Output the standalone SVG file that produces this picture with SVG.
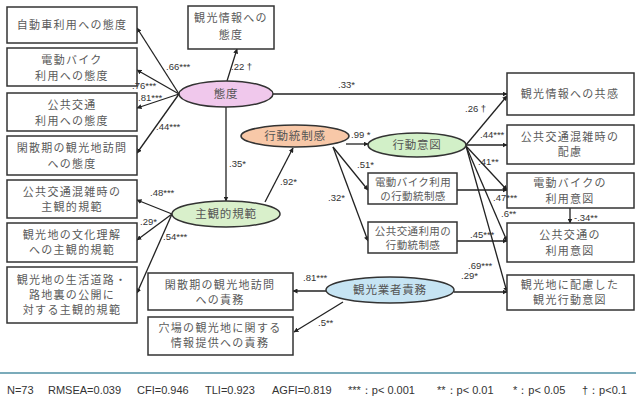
<svg xmlns="http://www.w3.org/2000/svg" width="636" height="405" viewBox="0 0 636 405">
<defs>
<marker id="ah" viewBox="0 0 10 10" refX="9" refY="5" markerWidth="5" markerHeight="5" orient="auto" markerUnits="userSpaceOnUse">
<path d="M0,0 L10,5 L0,10 z" fill="#222"/>
</marker>
<style>
.box{fill:#fff;stroke:#333;stroke-width:1.5}
.bt{font-family:"Noto Sans CJK JP","Noto Sans",sans-serif;font-size:11px;fill:#5a5a5a;text-anchor:middle;letter-spacing:1.3px}
.bs{font-family:"Noto Sans CJK JP","Noto Sans",sans-serif;font-size:10.5px;fill:#5a5a5a;text-anchor:middle;letter-spacing:0.4px}
.et{font-family:"Noto Sans CJK JP","Noto Sans",sans-serif;font-size:11.5px;fill:#555;text-anchor:middle;letter-spacing:0.8px}
.ell{stroke:#333;stroke-width:1.5}
.ln{stroke:#222;stroke-width:1.3;fill:none;marker-end:url(#ah)}
.lb{font-family:"Liberation Sans",Arial,sans-serif;font-size:9.5px;fill:#333}
.ft{font-family:"Liberation Sans",Arial,sans-serif;font-size:11px;fill:#333}
</style>
</defs>
<rect width="636" height="405" fill="#fff"/>

<g id="connectors">
<line class="ln" x1="179" y1="94" x2="137" y2="28"/>
<line class="ln" x1="179" y1="94" x2="137" y2="70"/>
<line class="ln" x1="179" y1="94" x2="137" y2="108"/>
<line class="ln" x1="179" y1="94" x2="137" y2="153"/>
<line class="ln" x1="227" y1="81" x2="237" y2="49"/>
<line class="ln" x1="273" y1="94" x2="507" y2="94"/>
<line class="ln" x1="226" y1="107" x2="226" y2="201"/>
<line class="ln" x1="265" y1="202" x2="293" y2="148"/>
<line class="ln" x1="346" y1="144" x2="368" y2="144"/>
<line class="ln" x1="333" y1="147" x2="368" y2="190"/>
<line class="ln" x1="333" y1="147" x2="368" y2="241"/>
<line class="ln" x1="466" y1="145" x2="507" y2="96"/>
<line class="ln" x1="466" y1="145" x2="507" y2="145"/>
<line class="ln" x1="466" y1="146" x2="507" y2="190"/>
<line class="ln" x1="466" y1="146" x2="507" y2="241"/>
<line class="ln" x1="466" y1="146" x2="507" y2="292"/>
<line class="ln" x1="457" y1="190" x2="507" y2="190"/>
<line class="ln" x1="457" y1="241" x2="507" y2="241"/>
<line class="ln" x1="570" y1="208" x2="570" y2="223"/>
<line class="ln" x1="454" y1="292" x2="507" y2="292"/>
<line class="ln" x1="326" y1="291" x2="293" y2="291"/>
<line class="ln" x1="343" y1="302" x2="294" y2="332"/>
<line class="ln" x1="172" y1="214" x2="137" y2="200"/>
<line class="ln" x1="172" y1="214" x2="137" y2="240"/>
<line class="ln" x1="172" y1="214" x2="137" y2="293"/>
</g>

<g id="n-jidosha"><rect class="box" x="7" y="7" width="130" height="36"/><text class="bt" x="72" y="29">自動車利用への態度</text></g>
<g id="n-denbike"><rect class="box" x="7" y="48" width="130" height="38"/><text class="bt" x="72" y="64">電動バイク</text><text class="bt" x="72" y="80">利用への態度</text></g>
<g id="n-kokyo"><rect class="box" x="7" y="93" width="130" height="38"/><text class="bt" x="72" y="109">公共交通</text><text class="bt" x="72" y="125">利用への態度</text></g>
<g id="n-kansan"><rect class="box" x="7" y="136" width="130" height="39"/><text class="bt" x="72" y="152">閑散期の観光地訪問</text><text class="bt" x="72" y="168">への態度</text></g>
<g id="n-konzatsu-norm"><rect class="box" x="7" y="180" width="130" height="38"/><text class="bt" x="72" y="196">公共交通混雑時の</text><text class="bt" x="72" y="211">主観的規範</text></g>
<g id="n-bunka"><rect class="box" x="7" y="223" width="130" height="39"/><text class="bt" x="72" y="239">観光地の文化理解</text><text class="bt" x="72" y="254">への主観的規範</text></g>
<g id="n-seikatsu"><rect class="box" x="7" y="267" width="130" height="56"/><text class="bt" x="72" y="284">観光地の生活道路・</text><text class="bt" x="72" y="299">路地裏の公開に</text><text class="bt" x="72" y="314">対する主観的規範</text></g>
<g id="n-info-att"><rect class="box" x="188" y="6" width="86" height="43"/><text class="bt" x="231" y="22">観光情報への</text><text class="bt" x="231" y="39">態度</text></g>

<g id="n-taido"><ellipse class="ell" cx="226" cy="94" rx="47" ry="13" fill="#f0c8ec"/><text class="et" x="226" y="98" fill="#7a5a7a">態度</text></g>
<g id="n-shukan"><ellipse class="ell" cx="226" cy="214" rx="54" ry="13" fill="#d9f0cb"/><text class="et" x="226" y="218">主観的規範</text></g>
<g id="n-tosei"><ellipse class="ell" cx="295" cy="136" rx="54" ry="11" fill="#f8c8a8"/><text class="et" x="295" y="140">行動統制感</text></g>
<g id="n-ito"><ellipse class="ell" cx="417" cy="145" rx="49" ry="12" fill="#d2f0c8"/><text class="et" x="417" y="149">行動意図</text></g>
<g id="n-sekimu"><ellipse class="ell" cx="390" cy="290" rx="64" ry="13" fill="#c6e4f3"/><text class="et" x="390" y="294">観光業者責務</text></g>

<g id="n-denbike-tosei"><rect class="box" x="368" y="173" width="89" height="31"/><text class="bs" x="413" y="186">電動バイク利用</text><text class="bs" x="413" y="200">の行動統制感</text></g>
<g id="n-kokyo-tosei"><rect class="box" x="368" y="222" width="89" height="31"/><text class="bs" x="413" y="235">公共交通利用の</text><text class="bs" x="413" y="249">行動統制感</text></g>

<g id="n-kyokan"><rect class="box" x="507" y="73" width="127" height="42"/><text class="bt" x="570" y="98">観光情報への共感</text></g>
<g id="n-hairyo"><rect class="box" x="507" y="125" width="127" height="39"/><text class="bt" x="570" y="141">公共交通混雑時の</text><text class="bt" x="570" y="156">配慮</text></g>
<g id="n-denbike-ito"><rect class="box" x="507" y="173" width="127" height="35"/><text class="bt" x="570" y="187">電動バイクの</text><text class="bt" x="570" y="203">利用意図</text></g>
<g id="n-kokyo-ito"><rect class="box" x="507" y="223" width="127" height="39"/><text class="bt" x="570" y="239">公共交通の</text><text class="bt" x="570" y="255">利用意図</text></g>
<g id="n-kanko-ito"><rect class="box" x="507" y="275" width="127" height="35"/><text class="bt" x="570" y="289">観光地に配慮した</text><text class="bt" x="570" y="304">観光行動意図</text></g>

<g id="n-kansan-sekimu"><rect class="box" x="148" y="273" width="145" height="37"/><text class="bt" x="220" y="289">閑散期の観光地訪問</text><text class="bt" x="220" y="304">への責務</text></g>
<g id="n-anaba"><rect class="box" x="148" y="317" width="145" height="38"/><text class="bt" x="220" y="332">穴場の観光地に関する</text><text class="bt" x="220" y="347">情報提供への責務</text></g>

<g id="connector-labels">
<text class="lb" x="166" y="70">.66***</text>
<text class="lb" x="231" y="70">.22 †</text>
<text class="lb" x="132" y="89">.76***</text>
<text class="lb" x="138" y="101">.81***</text>
<text class="lb" x="156" y="130">.44***</text>
<text class="lb" x="338" y="88">.33*</text>
<text class="lb" x="465" y="112">.26 †</text>
<text class="lb" x="229" y="167">.35*</text>
<text class="lb" x="280" y="185">.92*</text>
<text class="lb" x="351" y="138">.99 *</text>
<text class="lb" x="357" y="168">.51*</text>
<text class="lb" x="328" y="201">.32*</text>
<text class="lb" x="480" y="138">.44***</text>
<text class="lb" x="478" y="165">.41**</text>
<text class="lb" x="493" y="201">.47***</text>
<text class="lb" x="501" y="217">.6**</text>
<text class="lb" x="574" y="221">-.34**</text>
<text class="lb" x="470" y="238">.45***</text>
<text class="lb" x="468" y="269">.69***</text>
<text class="lb" x="461" y="279">.29*</text>
<text class="lb" x="303" y="281">.81***</text>
<text class="lb" x="318" y="326">.5**</text>
<text class="lb" x="150" y="196">.48***</text>
<text class="lb" x="140" y="225">.29*</text>
<text class="lb" x="163" y="240">.54***</text>
</g>

<line x1="0" y1="373" x2="636" y2="373" stroke="#4f8fa3" stroke-width="1.5"/>
<text class="ft" y="394"><tspan x="7">N=73</tspan><tspan x="48">RMSEA=0.039</tspan><tspan x="137">CFI=0.946</tspan><tspan x="205">TLI=0.923</tspan><tspan x="272">AGFI=0.819</tspan><tspan x="348">***：p&lt; 0.001</tspan><tspan x="437">**：p&lt; 0.01</tspan><tspan x="513">*：p&lt; 0.05</tspan><tspan x="582">†：p&lt;0.1</tspan></text>
</svg>
